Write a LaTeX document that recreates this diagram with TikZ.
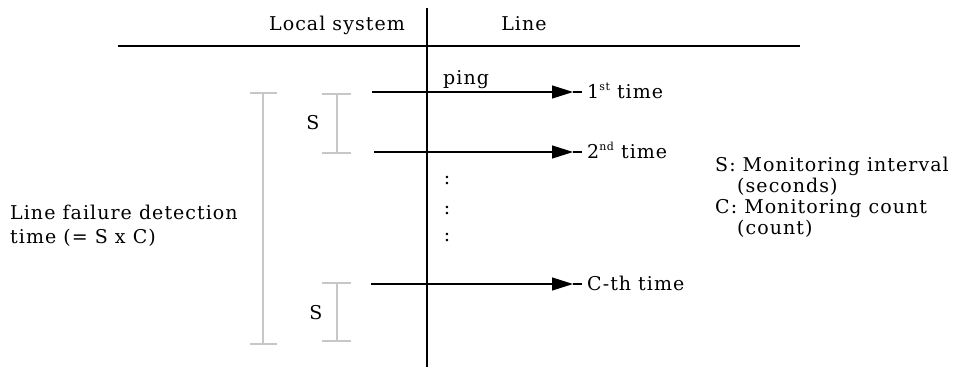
\documentclass[tikz,border=0pt]{standalone}
\usepackage{fontspec}
\setmainfont{DejaVu Serif}[LetterSpace=5.5]
\usetikzlibrary{arrows.meta}
\newcommand{\sups}[1]{\raisebox{0.42em}{\fontsize{11}{11}\selectfont #1}}
\begin{document}
\begin{tikzpicture}[x=1pt,y=-1pt,
  txt/.style={inner sep=0pt,font=\fontsize{19}{22}\selectfont},
  gbar/.style={draw=black!22,line width=1.2pt},
  msg/.style={draw=black,line width=1.3pt,-{Triangle[length=21pt,width=13pt]}},
  tail/.style={draw=black,line width=1.3pt},
  axis/.style={draw=black,line width=1.5pt}]
\useasboundingbox (0,0) rectangle (960,367);
% axes
\coordinate (hl) at (118,46); \coordinate (hr) at (800,46);
\coordinate (vt) at (427,8); \coordinate (vb) at (427,367);
\draw[axis,line width=2.6pt] (hl) -- (hr);
\draw[axis] (vt) -- (vb);
\node[txt,anchor=base] (ls) at (337,30) {Local system};
\node[txt,anchor=base] (ln) at (524,30) {Line};
% messages
\coordinate (a1s) at (372,92); \coordinate (a1h) at (573,92); \coordinate (a1e) at (582,92);
\coordinate (a2s) at (374,152); \coordinate (a2h) at (573,152); \coordinate (a2e) at (582,152);
\coordinate (a3s) at (371,284); \coordinate (a3h) at (573,284); \coordinate (a3e) at (582,284);
\draw[msg] (a1s) -- (a1h); \draw[tail] (a1h) -- (a1e);
\draw[msg] (a2s) -- (a2h); \draw[tail] (a2h) -- (a2e);
\draw[msg] (a3s) -- (a3h); \draw[tail] (a3h) -- (a3e);
\node[txt,anchor=base west] (ping) at (443,84) {ping};
\node[txt,anchor=base west] (t1) at (587,98) {1\sups{st} time};
\node[txt,anchor=base west] (t2) at (587,158) {2\sups{nd} time};
\node[txt,anchor=base west] (t3) at (587,290) {C-th time};
% dots
\node[txt] (d1) at (447,181) {:};
\node[txt] (d2) at (447,211) {:};
\node[txt] (d3) at (447,238) {:};
% gray I-beams
\coordinate (bt) at (263,93); \coordinate (bb) at (263,344);
\draw[gbar] (bt) -- (bb);
\draw[gbar] (250,93) -- (277,93);
\draw[gbar] (250,344) -- (277,344);
\coordinate (s1t) at (337,94); \coordinate (s1b) at (337,153);
\draw[gbar] (s1t) -- (s1b);
\draw[gbar] (322,94) -- (351,94);
\draw[gbar] (322,153) -- (351,153);
\coordinate (s2t) at (337,283); \coordinate (s2b) at (337,341);
\draw[gbar] (s2t) -- (s2b);
\draw[gbar] (322,283) -- (351,283);
\draw[gbar] (322,341) -- (351,341);
\node[txt] (S1) at (313,123) {S};
\node[txt] (S2) at (316,313) {S};
% left label
\node[txt,anchor=base west] (lf1) at (10,219) {Line failure detection};
\node[txt,anchor=base west] (lf2) at (10,243) {time (= S x C)};
% right legend
\node[txt,anchor=base west] (r1) at (715,171) {S: Monitoring interval};
\node[txt,anchor=base west] (r2) at (737,192) {(seconds)};
\node[txt,anchor=base west] (r3) at (715,213) {C: Monitoring count};
\node[txt,anchor=base west] (r4) at (737,234) {(count)};
\end{tikzpicture}
\end{document}
